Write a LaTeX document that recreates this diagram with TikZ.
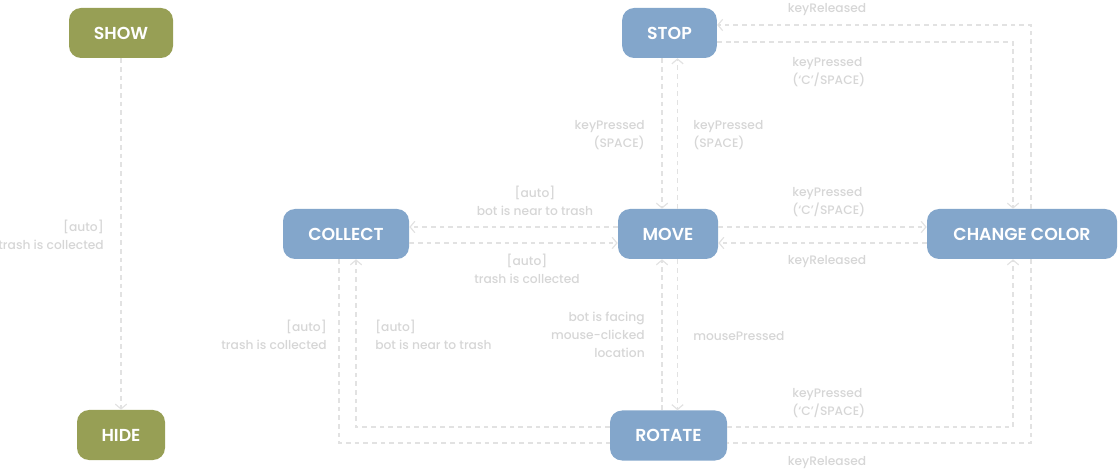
\documentclass[tikz,border=0pt]{standalone}
\usepackage{fontspec}
\setmainfont{Poppins}[BoldFont=* SemiBold]
\newfontfamily\lblfont{Poppins}[UprightFont=* Medium]
\usetikzlibrary{arrows.meta,calc}
\definecolor{stblue}{HTML}{83A6CB}
\definecolor{stolive}{HTML}{979F55}
\definecolor{lbl}{HTML}{D6D6D6}
\definecolor{ln}{HTML}{E2E2E2}
\tikzset{
  state/.style={rounded corners=9pt, text=white, font=\bfseries\fontsize{13}{15}\selectfont, inner sep=0pt, minimum height=37.5pt},
  bluest/.style={state, fill=stblue},
  olivest/.style={state, fill=stolive},
  conn/.style={draw=ln, line width=0.9pt, dash pattern=on 3.6pt off 2.9pt},
  arr/.style={conn, -{Straight Barb[length=3.6pt,width=8.5pt,line width=0.9pt]}},
  lab/.style={text=lbl, font=\lblfont\fontsize{9.2}{13.4}\selectfont, inner sep=0pt, align=#1},
  lab/.default=center
}
\begin{document}
\begin{tikzpicture}[x=0.75pt,y=-0.75pt]
\useasboundingbox (0,0) rectangle (1118,470);
% states
\node[olivest, minimum width=78pt] (show) at (121,33) {SHOW};
\node[olivest, minimum width=66pt] (hide) at (121,435) {HIDE};
\node[bluest, minimum width=71pt] (stop) at (669.5,33) {STOP};
\node[bluest, minimum width=75pt] (move) at (668,234) {MOVE};
\node[bluest, minimum width=94.5pt] (collect) at (346,234) {COLLECT};
\node[bluest, minimum width=142.5pt] (cc) at (1022,234) {CHANGE COLOR};
\node[bluest, minimum width=87.75pt] (rotate) at (668.5,435.5) {ROTATE};
% guide coordinates
\coordinate (xa) at (662,0);
\coordinate (xb) at (677.5,0);
\coordinate (xc) at (1013,0);
\coordinate (xd) at (1031,0);
\coordinate (xe) at (356,0);
\coordinate (xf) at (339,0);
\coordinate (ya) at (0,227);
\coordinate (yb) at (0,243);
\coordinate (yc) at (0,25);
\coordinate (yd) at (0,42);
\coordinate (ye) at (0,427);
\coordinate (yf) at (0,443);
% connectors
\draw[arr] (show) -- (hide);
\draw[arr] (stop.south -| xa) -- (move.north -| xa);
\draw[arr] (move.north -| xb) -- (stop.south -| xb);
\draw[arr] (move.west |- ya) -- (collect.east |- ya);
\draw[arr] (collect.east |- yb) -- (move.west |- yb);
\draw[arr] (move.east |- ya) -- (cc.west |- ya);
\draw[arr] (cc.west |- yb) -- (move.east |- yb);
\draw[arr] (move.south -| xb) -- (rotate.north -| xb);
\draw[arr] (rotate.north -| xa) -- (move.south -| xa);
\draw[arr] (stop.east |- yd) -- (xc |- yd) -- (cc.north -| xc);
\draw[arr] (cc.north -| xd) -- (xd |- yc) -- (stop.east |- yc);
\draw[arr] (rotate.east |- ye) -- (xc |- ye) -- (cc.south -| xc);
\draw[conn] (cc.south -| xd) -- (xd |- yf) -- (rotate.east |- yf);
\draw[arr] (rotate.west |- ye) -- (xe |- ye) -- (collect.south -| xe);
\draw[conn] (collect.south -| xf) -- (xf |- yf) -- (rotate.west |- yf);
% labels
\node[lab=right, anchor=east] (l1) at (104,234.5) {[auto]\\trash is collected};
\node[lab] (l2) at (827,10) {keyReleased};
\node[lab=left, anchor=west] (l3) at (792,72) {keyPressed\\(‘C’/SPACE)};
\node[lab=right, anchor=east] (l4) at (645,135) {keyPressed\\(SPACE)};
\node[lab=left, anchor=west] (l5) at (693,135) {keyPressed\\(SPACE)};
\node[lab] (l6) at (535,201) {[auto]\\bot is near to trash};
\node[lab] (l7) at (527,268.5) {[auto]\\trash is collected};
\node[lab=left, anchor=west] (l8) at (792,202) {keyPressed\\(‘C’/SPACE)};
\node[lab] (l9) at (827,261.5) {keyReleased};
\node[lab=right, anchor=east] (l10) at (327,334.5) {[auto]\\trash is collected};
\node[lab=left, anchor=west] (l11) at (375,334.5) {[auto]\\bot is near to trash};
\node[lab=right, anchor=east] (l12) at (645,335) {bot is facing\\mouse-clicked\\location};
\node[lab, anchor=west] (l13) at (693,336) {mousePressed};
\node[lab=left, anchor=west] (l14) at (792,403) {keyPressed\\(‘C’/SPACE)};
\node[lab] (l15) at (827,462.5) {keyReleased};
\end{tikzpicture}
\end{document}
